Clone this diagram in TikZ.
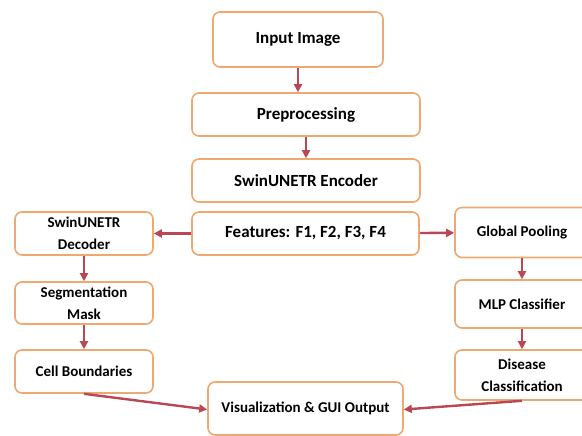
\documentclass[tikz,border=0pt]{standalone}
\usepackage{fontspec}
\setmainfont{Carlito}
\usetikzlibrary{positioning, arrows.meta}
\definecolor{korange}{RGB}{238,168,112}
\definecolor{kred}{RGB}{186,72,84}

\begin{document}
\begin{tikzpicture}[x=1pt, y=-1pt,
        box/.style={draw=korange, line width=1.6pt, rounded corners=7pt, fill=white,
            inner sep=0pt, align=center, font=\bfseries\fontsize{15}{22}\selectfont},
        mainbox/.style={box, font=\bfseries\fontsize{17}{22}\selectfont},
        arr/.style={draw=kred, line width=2.4pt, -{Triangle[length=8pt, width=8pt]}}]
        % page
        \useasboundingbox (0,0) rectangle (582,436);
        
        % middle column
        \node[mainbox, minimum width=170pt, minimum height=55pt] (inp) at (298,39.5) {Input Image};
        \node[mainbox, minimum width=228pt, minimum height=43pt] (pre) at (306,114.5) {Preprocessing};
        \node[mainbox, minimum width=228pt, minimum height=43pt] (enc) at (306,180.5) {SwinUNETR Encoder};
        \node[mainbox, minimum width=227pt, minimum height=43pt] (feat) at (305.5,233.5) {Features: F1, F2, F3, F4};
        \node[box, minimum width=195pt, minimum height=53pt] (vis) at (305.5,408.5) {Visualization \& GUI Output};
        
        % left column
        \node[box, minimum width=138pt, minimum height=43pt] (dec) at (84,233.5) {SwinUNETR\\Decoder};
        \node[box, minimum width=138pt, minimum height=42pt] (seg) at (84,303) {Segmentation\\Mask};
        \node[box, minimum width=138pt, minimum height=43pt] (cell) at (84,371.5) {Cell Boundaries};
        
        % right column (runs off the page edge)
        \node[box, minimum width=150pt, minimum height=50pt] (pool) at (530,232.5) {\hspace*{-16pt}Global Pooling};
        \node[box, minimum width=150pt, minimum height=48pt] (mlp) at (530,304) {\hspace*{-16pt}MLP Classifier};
        \node[box, minimum width=150pt, minimum height=50pt] (dis) at (530,375) {\hspace*{-16pt}Disease\\\hspace*{-16pt}Classification};
        
        % arrows
        \draw[arr, line width=2pt] (inp.south) -- (inp.south |- pre.north);
        \draw[arr, line width=2pt] (pre) -- (enc);
        \draw[arr] (feat) -- (dec);
        \draw[arr] (feat) -- (pool);
        \draw[arr, line width=2pt] (dec) -- (seg);
        \draw[arr, line width=2pt] (seg) -- (cell);
        \draw[arr, line width=2pt] ([xshift=-8pt]pool.south) -- ([xshift=-8pt]mlp.north);
        \draw[arr, line width=2pt] ([xshift=-8pt]mlp.south) -- ([xshift=-8pt]dis.north);
        \draw[arr] (cell.south) -- ([yshift=-1pt]vis.west);
        \draw[arr] ([xshift=-8pt]dis.south) -- ([yshift=-1pt]vis.east);
\end{tikzpicture}
\end{document}
